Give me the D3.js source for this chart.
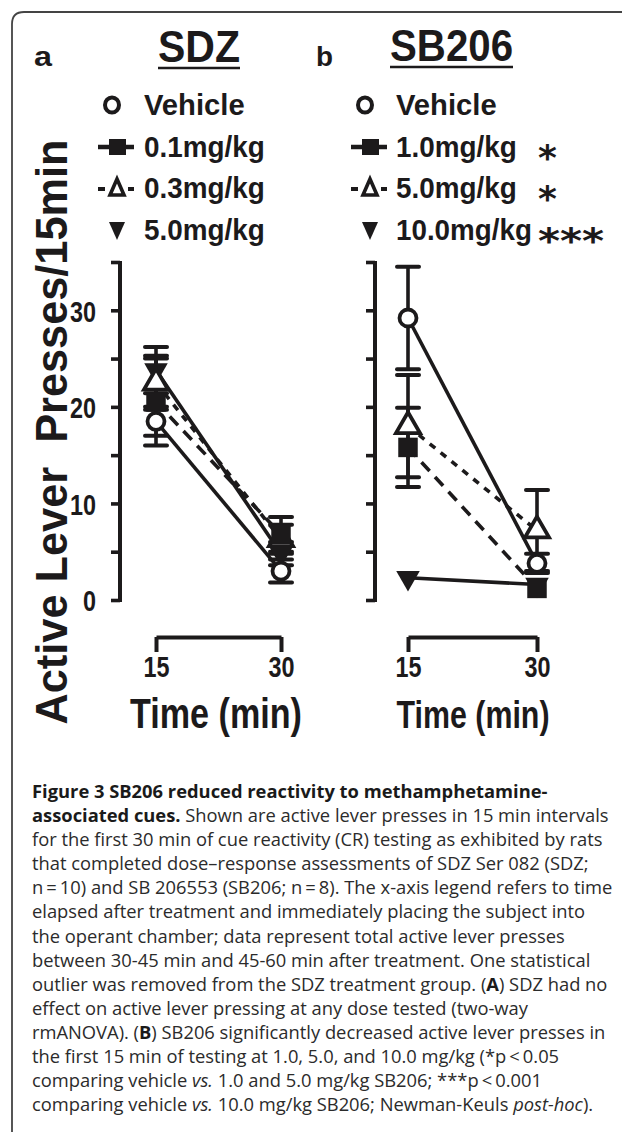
<!DOCTYPE html>
<html><head><meta charset="utf-8">
<script src="https://cdn.jsdelivr.net/npm/d3@7"></script>
<style>body{margin:0;background:#fff} svg{display:block}</style>
</head><body>
<svg id="c" width="622" height="1132"></svg>
<script>
// ---------- data ----------
const times = [15, 30];
const yTickValues = [0, 5, 10, 15, 20, 25, 30, 35];
const yTickLabels = [0, 10, 20, 30];
const xTickLabels = ["15", "30"];
const sdzLabels = ["Vehicle", "0.1mg/kg", "0.3mg/kg", "5.0mg/kg"];
const sbLabels = ["Vehicle", "1.0mg/kg", "5.0mg/kg", "10.0mg/kg"];
const sbStars = ["", "*", "*", "***"];
// SDZ panel (means and SEM at 15 and 30 min)
const sdzVehicle = [18.5, 3.0], sdzVehicleErr = [1.5, 1.2];
const sdz01 = [20.5, 6.8], sdz01Err = [4.5, 1.8];
const sdz03 = [22.5, 6.3], sdz03Err = [2.8, 1.5];
const sdz50 = [23.8, 4.8], sdz50Err = [2.4, 1.2];
// SB206 panel
const sbVehicle = [29.2, 3.8], sbVehicleErr = [5.3, 1.0];
const sb10 = [15.8, 1.2], sb10Err = [4.1, 0];
const sb50 = [18.0, 7.2], sb50Err = [5.3, 4.2];
const sb100 = [2.3, 1.6], sb100Err = [0, 0];

// ---------- setup ----------
const INK = "#1c1a1b";
const BOLD = "'Liberation Sans', Arial, sans-serif";
const svg = d3.select("#c");

// frame
svg.append("path").attr("d", "M12,1132 V24 Q12,12 24,12 H622")
  .attr("fill", "none").attr("stroke", "#444").attr("stroke-width", 1.8);

const y = d3.scaleLinear().domain([0, 35]).range([600, 262]);
const xA = d3.scaleLinear().domain([15, 30]).range([156, 281]);
const xB = d3.scaleLinear().domain([15, 30]).range([408, 537]);

const shapes = {
  circle: d3.symbol().type(d3.symbolCircle).size(227),
  square: d3.symbol().type(d3.symbolSquare).size(380),
  triangle: d3.symbol().type(d3.symbolTriangle).size(250),
  inv: d3.symbol().type(d3.symbolTriangle).size(240)
};
const dashes = { solid: null, long: "12,8", short: "7,7" };

function digitLen(s) { return s.length * 13; }

function drawAxes(axisX, x, labels) {
  const ay = svg.append("g").attr("transform", `translate(${axisX},0)`)
    .call(d3.axisLeft(y).tickValues(yTickValues).tickSize(9).tickSizeOuter(0).tickPadding(15)
      .tickFormat(d => (labels && yTickLabels.includes(d)) ? d : ""));
  ay.select(".domain").attr("stroke", INK).attr("stroke-width", 4)
    .attr("d", `M0,${y(35) - 1}V${y(0) + 2}`);
  ay.selectAll(".tick line").attr("stroke", INK).attr("stroke-width", 3.6);
  ay.selectAll(".tick text").attr("fill", INK).style("font-family", BOLD)
    .style("font-weight", "bold").style("font-size", "30px").attr("dy", "0.36em")
    .each(function () {
      const s = d3.select(this).text();
      if (s) d3.select(this).attr("textLength", digitLen(s)).attr("lengthAdjust", "spacingAndGlyphs");
    });

  const ax = svg.append("g").attr("transform", `translate(0,637)`)
    .call(d3.axisBottom(x).tickValues(times).tickSize(15).tickSizeOuter(0).tickPadding(4)
      .tickFormat((d, i) => xTickLabels[i]));
  ax.select(".domain").attr("stroke", INK).attr("stroke-width", 4);
  ax.selectAll(".tick line").attr("stroke", INK).attr("stroke-width", 4);
  ax.selectAll(".tick text").attr("fill", INK).style("font-family", BOLD)
    .style("font-weight", "bold").style("font-size", "30px")
    .each(function () {
      const s = d3.select(this).text();
      d3.select(this).attr("textLength", digitLen(s)).attr("lengthAdjust", "spacingAndGlyphs");
    });
}

function drawSeries(x, series) {
  const line = d3.line().x((d, i) => x(times[i])).y(d => y(d));
  series.forEach(s => {
    svg.append("path").attr("d", line(s.v)).attr("fill", "none").attr("stroke", INK)
      .attr("stroke-width", 3.6).attr("stroke-dasharray", dashes[s.dash]);
  });
  series.forEach(s => {
    s.v.forEach((v, i) => {
      if (!s.e[i]) return;
      const cx = x(times[i]);
      const lo = y(v - s.e[i]), hi = y(v + s.e[i]);
      svg.append("line").attr("x1", cx).attr("x2", cx).attr("y1", lo).attr("y2", hi)
        .attr("stroke", INK).attr("stroke-width", 3.6);
      [lo, hi].forEach(yy => svg.append("line").attr("x1", cx - 11).attr("x2", cx + 11)
        .attr("y1", yy).attr("y2", yy).attr("stroke", INK).attr("stroke-width", 4)
        .attr("stroke-linecap", "round"));
    });
  });
  series.forEach(s => {
    s.v.forEach((v, i) => {
      const cx = x(times[i]), cy = y(v);
      const p = svg.append("path").attr("d", shapes[s.shape]())
        .attr("transform", `translate(${cx},${cy})` + (s.shape === "inv" ? " rotate(180)" : ""));
      if (s.shape === "circle" || s.shape === "triangle")
        p.attr("fill", "#fff").attr("stroke", INK).attr("stroke-width", 3.8);
      else p.attr("fill", INK);
    });
  });
}

function drawLegend(symX, textX, labels, stars) {
  const base = [115, 157, 198, 240];
  const kinds = ["circle", "square", "triangle", "inv"];
  labels.forEach((lab, i) => {
    const cy = base[i] - 10;
    const g = svg.append("g").attr("transform", `translate(${symX},${cy})`);
    if (kinds[i] === "circle") {
      g.append("ellipse").attr("cx", -5).attr("rx", 7).attr("ry", 7.5).attr("fill", "#fff")
        .attr("stroke", INK).attr("stroke-width", 4);
    } else if (kinds[i] === "square") {
      g.append("line").attr("x1", -19).attr("x2", 17).attr("stroke", INK).attr("stroke-width", 4.5);
      g.append("rect").attr("x", -8).attr("y", -8).attr("width", 17).attr("height", 16).attr("fill", INK);
    } else if (kinds[i] === "triangle") {
      g.append("line").attr("x1", -19).attr("x2", -12).attr("y1", 1).attr("y2", 1).attr("stroke", INK).attr("stroke-width", 4);
      g.append("line").attr("x1", 11).attr("x2", 17).attr("y1", 1).attr("y2", 1).attr("stroke", INK).attr("stroke-width", 4);
      g.append("path").attr("d", "M0,-9 L7,7 L-7,7 Z").attr("fill", "#fff")
        .attr("stroke", INK).attr("stroke-width", 3.6).attr("stroke-linejoin", "miter");
    } else {
      g.append("path").attr("d", "M-8,-8 L8,-8 L0,10 Z").attr("fill", INK);
    }
    svg.append("text").attr("x", textX).attr("y", base[i]).text(lab)
      .attr("fill", INK).style("font-family", BOLD).style("font-weight", "bold")
      .style("font-size", "30px").attr("textLength", lab.length * 15.1 + (lab === "Vehicle" ? -5 : 0))
      .attr("lengthAdjust", "spacingAndGlyphs");
    if (stars && stars[i]) {
      const t = svg.append("text").attr("x", 538).attr("y", base[i] + 13).text(stars[i])
        .attr("fill", INK).style("font-family", "'DejaVu Sans', sans-serif").style("font-weight", "bold")
        .style("font-size", "36px");
      if (stars[i].length === 3) t.attr("textLength", 66).attr("lengthAdjust", "spacingAndGlyphs");
    }
  });
}

// panel letters & titles
function title(x, yb, txt, w, size) {
  svg.append("text").attr("x", x).attr("y", yb).text(txt).attr("fill", INK)
    .style("font-family", BOLD).style("font-weight", "bold").style("font-size", size + "px")
    .attr("textLength", w).attr("lengthAdjust", "spacingAndGlyphs");
}
title(34, 66, "a", 18, 27);
title(316, 66, "b", 17, 27);
title(158, 62, "SDZ", 82, 45);
title(390, 61, "SB206", 123, 45);
svg.append("line").attr("x1", 158).attr("x2", 240).attr("y1", 68).attr("y2", 68).attr("stroke", INK).attr("stroke-width", 2.4);
svg.append("line").attr("x1", 390).attr("x2", 513).attr("y1", 67).attr("y2", 67).attr("stroke", INK).attr("stroke-width", 2.4);

drawLegend(117, 144, sdzLabels, null);
drawLegend(370, 396, sbLabels, sbStars);

drawAxes(120, xA, true);
drawAxes(375, xB, false);

drawSeries(xA, [
  { v: sdz50, e: sdz50Err, shape: "inv", dash: "solid" },
  { v: sdz03, e: sdz03Err, shape: "triangle", dash: "short" },
  { v: sdz01, e: sdz01Err, shape: "square", dash: "long" },
  { v: sdzVehicle, e: sdzVehicleErr, shape: "circle", dash: "solid" }
]);
drawSeries(xB, [
  { v: sb100, e: sb100Err, shape: "inv", dash: "solid" },
  { v: sb50, e: sb50Err, shape: "triangle", dash: "short" },
  { v: sb10, e: sb10Err, shape: "square", dash: "long" },
  { v: sbVehicle, e: sbVehicleErr, shape: "circle", dash: "solid" }
]);

// y label
svg.append("text").attr("transform", "translate(67,432) rotate(-90)").attr("text-anchor", "middle")
  .text("Active Lever\u00a0 Presses/15min").attr("fill", INK)
  .style("font-family", BOLD).style("font-weight", "bold").style("font-size", "45px")
  .attr("textLength", 585).attr("lengthAdjust", "spacingAndGlyphs");

// x titles
svg.append("text").attr("x", 216).attr("y", 728).attr("text-anchor", "middle").text("Time (min)")
  .attr("fill", INK).style("font-family", BOLD).style("font-weight", "bold").style("font-size", "42px")
  .attr("textLength", 172).attr("lengthAdjust", "spacingAndGlyphs");
svg.append("text").attr("x", 473).attr("y", 728).attr("text-anchor", "middle").text("Time (min)")
  .attr("fill", INK).style("font-family", BOLD).style("font-weight", "bold").style("font-size", "38px")
  .attr("textLength", 153).attr("lengthAdjust", "spacingAndGlyphs");

// caption
const captionLines = [
  [["Figure 3 SB206 reduced reactivity to methamphetamine-", "b"]],
  [["associated cues.", "b"], [" Shown are active lever presses in 15 min intervals", ""]],
  [["for the first 30 min of cue reactivity (CR) testing as exhibited by rats", ""]],
  [["that completed dose\u2013response assessments of SDZ Ser 082 (SDZ;", ""]],
  [["n\u2009=\u200910) and SB 206553 (SB206; n\u2009=\u20098). The x-axis legend refers to time", ""]],
  [["elapsed after treatment and immediately placing the subject into", ""]],
  [["the operant chamber; data represent total active lever presses", ""]],
  [["between 30-45 min and 45-60 min after treatment. One statistical", ""]],
  [["outlier was removed from the SDZ treatment group. (", ""], ["A", "b"], [") SDZ had no", ""]],
  [["effect on active lever pressing at any dose tested (two-way", ""]],
  [["rmANOVA). (", ""], ["B", "b"], [") SB206 significantly decreased active lever presses in", ""]],
  [["the first 15 min of testing at 1.0, 5.0, and 10.0 mg/kg (*p\u2009<\u20090.05", ""]],
  [["comparing vehicle ", ""], ["vs.", "i"], [" 1.0 and 5.0 mg/kg SB206; ***p\u2009<\u20090.001", ""]],
  [["comparing vehicle ", ""], ["vs.", "i"], [" 10.0 mg/kg SB206; Newman-Keuls ", ""], ["post-hoc", "i"], [").", ""]]
];
const cap = svg.append("g");
const capTexts = captionLines.map((segs, i) => {
  const t = cap.append("text").attr("x", 0).attr("y", 798 + i * 24.1)
    .style("font-family", "'Open Sans', 'Noto Sans', sans-serif").style("font-size", "18px").attr("fill", "#2b2b2b");
  segs.forEach(([s, st]) => {
    const sp = t.append("tspan").text(s);
    if (st === "b") sp.style("font-weight", "bold").attr("fill", "#1a1a1a");
    if (st === "i") sp.style("font-style", "italic");
  });
  return t;
});
const maxW = d3.max(capTexts, t => t.node().getComputedTextLength());
const sx = 581 / maxW;
cap.attr("transform", `translate(32,0) scale(${sx},1)`);
</script>
</body></html>
